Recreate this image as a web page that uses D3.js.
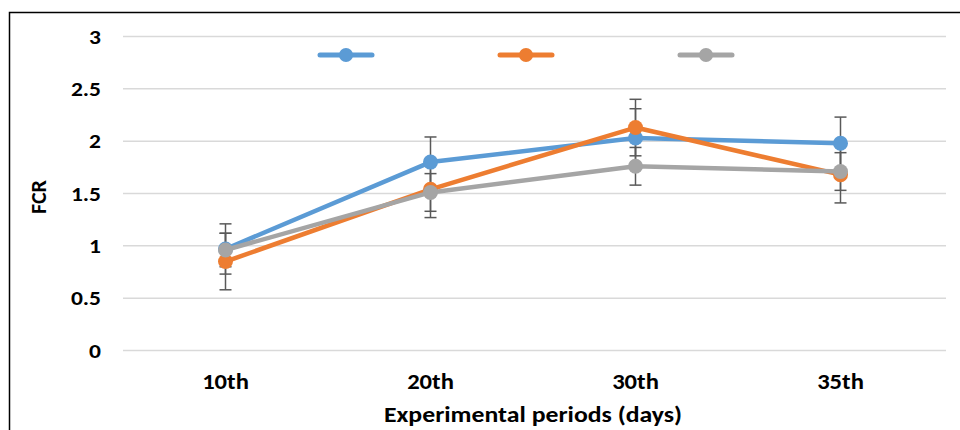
<!DOCTYPE html>
<html>
<head>
<meta charset="utf-8">
<script src="https://cdn.jsdelivr.net/npm/d3@7"></script>
<style>
  body { margin: 0; background: #fff; }
  text { font-family: Carlito, Calibri, "Liberation Sans Narrow", "Open Sans", sans-serif; font-weight: bold; fill: #000; }
</style>
</head>
<body>
<div class="chart"></div>
<script>
var periods = ["10th", "20th", "30th", "35th"];
var yTicks = [0, 0.5, 1, 1.5, 2, 2.5, 3];

var blueVals = [0.97, 1.80, 2.03, 1.98];
var orangeVals = [0.85, 1.54, 2.13, 1.68];
var grayVals = [0.96, 1.51, 1.76, 1.71];

var blueErr = [0.24, 0.24, 0.28, 0.25];
var orangeErr = [0.27, 0.27, 0.27, 0.27];
var grayErr = [0.16, 0.18, 0.18, 0.18];

var series = [
  { values: blueVals, err: blueErr, color: "#5B9BD5" },
  { values: orangeVals, err: orangeErr, color: "#ED7D31" },
  { values: grayVals, err: grayErr, color: "#A5A5A5" }
];

var width = 960, height = 430;
var stretch = 1.12;   // source text is a bit wider than Carlito

var svg = d3.select(".chart").append("svg")
            .attr("width", width)
            .attr("height", height);

// outer frame
svg.append("rect")
   .attr("x", 9.5).attr("y", 12.5)
   .attr("width", 970).attr("height", 440)
   .attr("fill", "none")
   .attr("stroke", "#000")
   .attr("stroke-width", 1.5);

var x = d3.scaleBand().domain(periods).range([123, 943]);
var y = d3.scaleLinear().domain([0, 3]).range([350.5, 36.5]);

// grid
svg.append("g").selectAll("line")
   .data(yTicks)
   .enter().append("line")
   .attr("x1", 123).attr("x2", 946)
   .attr("y1", function(d) { return y(d); })
   .attr("y2", function(d) { return y(d); })
   .attr("stroke", "#d9d9d9")
   .attr("stroke-width", 1.5);

// y tick labels
svg.append("g").selectAll("text")
   .data(yTicks)
   .enter().append("text")
   .attr("transform", function(d) { return "translate(101," + (y(d) + 7) + ") scale(" + stretch + ",1)"; })
   .attr("text-anchor", "end")
   .style("font-size", "21px")
   .text(function(d) { return d; });

// x tick labels
svg.append("g").selectAll("text")
   .data(periods)
   .enter().append("text")
   .attr("transform", function(d) { return "translate(" + (x(d) + x.bandwidth() / 2) + ",389) scale(" + stretch + ",1)"; })
   .attr("text-anchor", "middle")
   .style("font-size", "22px")
   .text(function(d) { return d; });

svg.append("text")
   .attr("transform", "translate(533,422) scale(" + stretch + ",1)")
   .attr("text-anchor", "middle")
   .style("font-size", "23px")
   .text("Experimental periods (days)");

svg.append("text")
   .attr("transform", "translate(46,197) rotate(-90)")
   .attr("text-anchor", "middle")
   .style("font-size", "22px")
   .text("FCR");

function cx(i) { return x(periods[i]) + x.bandwidth() / 2; }

// error bars
series.forEach(function(s) {
  var g = svg.append("g").attr("stroke", "#595959").attr("stroke-width", 1.5);
  s.values.forEach(function(v, i) {
    var lo = y(v - s.err[i]), hi = y(v + s.err[i]);
    g.append("line").attr("x1", cx(i)).attr("x2", cx(i)).attr("y1", lo).attr("y2", hi);
    g.append("line").attr("x1", cx(i) - 6).attr("x2", cx(i) + 6).attr("y1", lo).attr("y2", lo);
    g.append("line").attr("x1", cx(i) - 6).attr("x2", cx(i) + 6).attr("y1", hi).attr("y2", hi);
  });
});

var line = d3.line()
             .x(function(d, i) { return cx(i); })
             .y(function(d) { return y(d); });

series.forEach(function(s) {
  svg.append("path")
     .datum(s.values)
     .attr("d", line)
     .attr("fill", "none")
     .attr("stroke", s.color)
     .attr("stroke-width", 4.5)
     .attr("stroke-linejoin", "round")
     .attr("stroke-linecap", "round");
  svg.append("g").selectAll("circle")
     .data(s.values)
     .enter().append("circle")
     .attr("cx", function(d, i) { return cx(i); })
     .attr("cy", function(d) { return y(d); })
     .attr("r", 7.5)
     .attr("fill", s.color);
});

// legend (no series names in the source)
var legendX = [346, 526, 706];
series.forEach(function(s, i) {
  var lg = svg.append("g").attr("transform", "translate(" + legendX[i] + ",55)");
  lg.append("line")
    .attr("x1", -26).attr("x2", 26)
    .attr("stroke", s.color)
    .attr("stroke-width", 5)
    .attr("stroke-linecap", "round");
  lg.append("circle").attr("r", 7).attr("fill", s.color);
});
</script>
</body>
</html>
